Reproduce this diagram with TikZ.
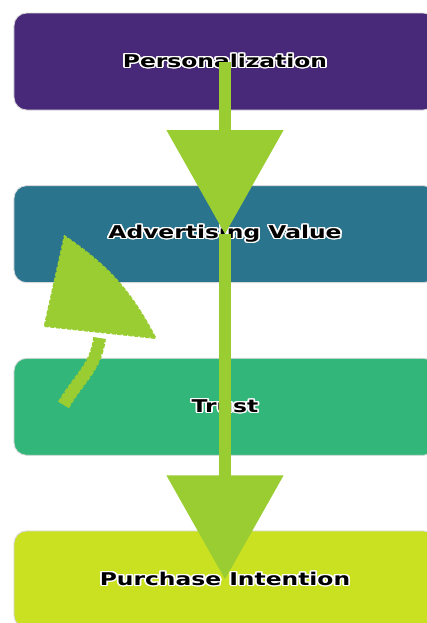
\documentclass[tikz,border=0pt]{standalone}
\usepackage{fontspec}
\usepackage{graphicx}
\usepackage[copies]{contour}
\usetikzlibrary{arrows.meta, positioning, calc}
\setsansfont{DejaVu Sans}
\definecolor{stagePurple}{RGB}{72, 40, 120}
\definecolor{stageTeal}{RGB}{42, 116, 142}
\definecolor{stageGreen}{RGB}{51, 182, 122}
\definecolor{stageLime}{RGB}{202, 225, 34}
\definecolor{flowGreen}{RGB}{154, 205, 50}
\contourlength{0.9pt}
\newcommand{\stagelabel}[1]{\scalebox{1.33}[1]{\contour{white}{#1}}}

\begin{document}
\begin{tikzpicture}[
    node distance=1.87cm,
    stage/.style={
        rectangle,
        rounded corners=9pt,
        minimum width=10.55cm,
        minimum height=2.425cm,
        text centered,
        font=\sffamily\bfseries\fontsize{12.5}{14}\selectfont,
        text=black,
        draw=black!15,
        line width=0.6pt
    },
    flow/.style={
        -{Triangle[width=2.85cm, length=2.6cm]},
        line width=0.3cm,
        color=flowGreen
    },
    loopshaft/.style={
        line width=0.27cm,
        color=flowGreen
    },
    ragged/.style={
        color=flowGreen,
        line width=1.2pt,
        dash pattern=on 3pt off 1pt
    }
]
\useasboundingbox (0,0) rectangle (10.675,-15.575);
\clip (0,0) rectangle (10.675,-15.575);

% Stages
\node[stage, fill=stagePurple] (pers) at (5.625,-1.5375) {\stagelabel{Personalization}};
\node[stage, fill=stageTeal, below=of pers] (adv) {\stagelabel{Advertising Value}};
\node[stage, fill=stageGreen, below=of adv] (trust) {\stagelabel{Trust}};
\node[stage, fill=stageLime, below=of trust] (purch) {\stagelabel{Purchase Intention}};

% Ends of the curved arrow
\coordinate (loopStart) at ($(trust.west)+(1.25,0.05)$);
\coordinate (loopBase) at ($(adv.west)+(2.15,-2.5)$);
\coordinate (loopEnd) at ($(adv.west)+(1.275,-0.05)$);

% Arrows
\draw[flow] (pers.center) -- (adv.center);
\draw[flow] (adv.center) -- (purch.center);

% Curved arrow, shaft then head, with ragged edges
\draw[loopshaft] (loopStart) to[out=60, in=-97] ($(loopBase)+(0,-0.1)$);
\draw[ragged, line width=0.32cm] (loopStart) to[out=60, in=-97] ($(loopBase)+(0,-0.1)$);
\filldraw[ragged, fill=flowGreen] ($(loopBase)+(-1.375,0.2)$) -- ($(loopBase)+(1.4,-0.1)$)
    to[bend right=14] (loopEnd) -- cycle;

\end{tikzpicture}
\end{document}
